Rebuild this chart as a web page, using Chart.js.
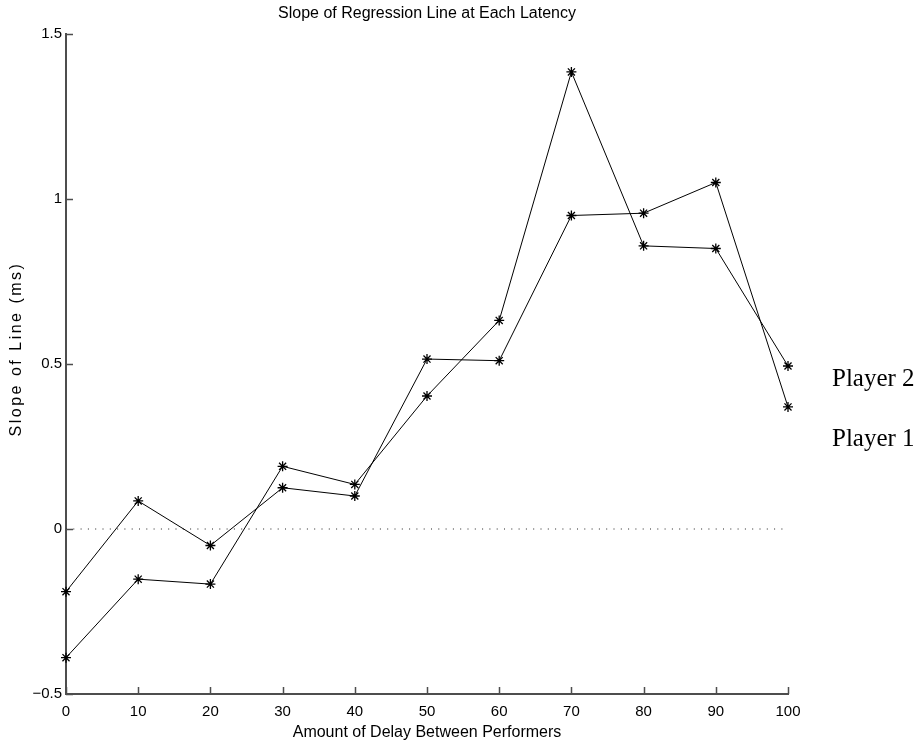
<!DOCTYPE html>
<html>
<head>
<meta charset="utf-8">
<title>Slope of Regression Line at Each Latency</title>
<script src="https://cdn.jsdelivr.net/npm/chart.js@4.4.1/dist/chart.umd.min.js"></script>
<style>
  html, body { margin: 0; padding: 0; background: #fff; }
  #wrap { width: 920px; height: 746px; }
</style>
</head>
<body>
<div id="wrap"><canvas id="chart" width="920" height="746"></canvas></div>
<script>
// Delay between performers (x) and slope of the fitted regression line (y)
const delays = [0, 10, 20, 30, 40, 50, 60, 70, 80, 90, 100];
const player1Slopes = [-0.19, 0.085, -0.05, 0.125, 0.10, 0.515, 0.51, 0.95, 0.957, 1.05, 0.37];
const player2Slopes = [-0.39, -0.152, -0.167, 0.19, 0.135, 0.403, 0.632, 1.385, 0.858, 0.85, 0.494];
const zeroLine = [0, 0];
const zeroLineX = [0, 100];
const yTicks = [-0.5, 0, 0.5, 1, 1.5];
const seriesNames = ['Player 1', 'Player 2'];
const chartTitle = 'Slope of Regression Line at Each Latency';
const xTitle = 'Amount of Delay Between Performers';
const yTitle = 'Slope of Line (ms)';

const AXIS_COLOR = '#4d4d4d';
const SANS = "'Liberation Sans', Arial, Helvetica, sans-serif";
const SERIF = "'Liberation Serif', 'Times New Roman', serif";

const toPoints = (xs, ys) => xs.map((x, i) => ({ x: x, y: ys[i] }));
const fmtTick = v => (v < 0 ? '\u2212' : '') + String(Math.abs(v));

// Short tick marks drawn on the inside of the left and bottom axes
const inwardTicks = {
  id: 'inwardTicks',
  afterDraw(chart) {
    const { ctx, chartArea, scales } = chart;
    const len = 7;
    ctx.save();
    ctx.strokeStyle = AXIS_COLOR;
    ctx.lineWidth = 1.5;
    ctx.beginPath();
    scales.x.ticks.forEach(t => {
      const px = Math.round(scales.x.getPixelForValue(t.value)) + 0.5;
      ctx.moveTo(px, chartArea.bottom);
      ctx.lineTo(px, chartArea.bottom - len);
    });
    scales.y.ticks.forEach(t => {
      const py = Math.round(scales.y.getPixelForValue(t.value)) + 0.5;
      ctx.moveTo(chartArea.left, py);
      ctx.lineTo(chartArea.left + len, py);
    });
    ctx.stroke();
    ctx.restore();
  }
};

// Title over the plot area, y-axis caption, and the series names at the right
const annotations = {
  id: 'annotations',
  afterDraw(chart) {
    const { ctx, chartArea } = chart;
    ctx.save();
    ctx.fillStyle = '#000';

    ctx.font = '16px ' + SANS;
    ctx.textAlign = 'center';
    ctx.textBaseline = 'middle';
    ctx.fillText(chartTitle, (chartArea.left + chartArea.right) / 2, 14);

    ctx.save();
    ctx.translate(17, chartArea.top + (chartArea.bottom - chartArea.top) / 2 - 15);
    ctx.rotate(-Math.PI / 2);
    if ('letterSpacing' in ctx) ctx.letterSpacing = '2.5px';
    ctx.fillText(yTitle, 0, 0);
    ctx.restore();

    ctx.font = '25px ' + SERIF;
    ctx.textAlign = 'left';
    ctx.textBaseline = 'alphabetic';
    const x = chartArea.right + 44;
    ctx.fillText(seriesNames[1], x, 386);
    ctx.fillText(seriesNames[0], x, 446);
    ctx.restore();
  }
};

Chart.defaults.font.family = SANS;
Chart.defaults.font.size = 15;
Chart.defaults.color = '#000';

const lineStyle = {
  borderColor: '#000',
  borderWidth: 1,
  pointStyle: 'star',
  pointRadius: 5,
  pointBorderColor: '#000',
  pointBorderWidth: 1.3,
  pointBackgroundColor: '#000',
  tension: 0,
  fill: false,
  clip: false
};

new Chart(document.getElementById('chart'), {
  type: 'line',
  data: {
    datasets: [
      Object.assign({ label: seriesNames[0], data: toPoints(delays, player1Slopes) }, lineStyle),
      Object.assign({ label: seriesNames[1], data: toPoints(delays, player2Slopes) }, lineStyle),
      {
        label: 'zero',
        data: toPoints(zeroLineX, zeroLine),
        borderColor: '#222',
        borderWidth: 1,
        borderDash: [1, 6.3],
        pointRadius: 0,
        fill: false,
        order: 5
      }
    ]
  },
  options: {
    responsive: false,
    devicePixelRatio: 1,
    animation: false,
    layout: { padding: { left: 0, right: 132, top: 34, bottom: 0 } },
    plugins: {
      legend: { display: false },
      tooltip: { enabled: false },
      title: { display: false }
    },
    scales: {
      x: {
        type: 'linear',
        min: 0,
        max: 100,
        afterFit(scale) { scale.height = 52; },
        border: { display: true, color: AXIS_COLOR, width: 2 },
        grid: { display: false, drawTicks: false },
        ticks: { stepSize: 10, padding: 9, color: '#000', font: { size: 15 }, callback: v => fmtTick(v) },
        title: {
          display: true,
          text: xTitle,
          color: '#000',
          font: { size: 16 },
          padding: { top: 0, bottom: 4 }
        }
      },
      y: {
        type: 'linear',
        min: yTicks[0],
        max: yTicks[yTicks.length - 1],
        afterFit(scale) { scale.width = 66; },
        afterBuildTicks(scale) { scale.ticks = yTicks.map(v => ({ value: v })); },
        border: { display: true, color: AXIS_COLOR, width: 2 },
        grid: { display: false, drawTicks: false },
        ticks: { padding: 4, color: '#000', font: { size: 15 }, callback: v => fmtTick(v) },
        title: { display: false }
      }
    }
  },
  plugins: [inwardTicks, annotations]
});
</script>
</body>
</html>
